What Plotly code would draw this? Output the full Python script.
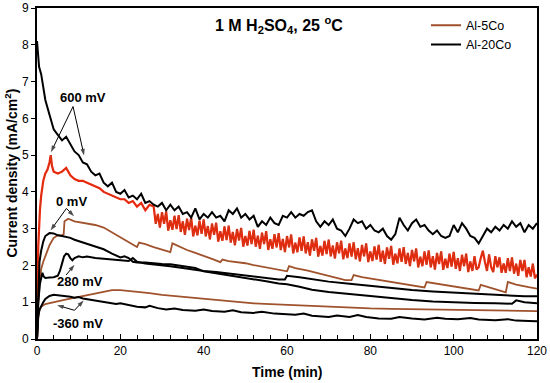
import plotly.graph_objects as go

# ---------------- data ----------------
# Al-20Co, 600 mV
t_b600 = [0, 0.5] + list(range(1, 121))
j_b600 = [8.1, 7.4,
          7.2, 6.5, 6.1, 5.7, 5.55, 5.4, 5.5, 5.3, 5.1, 5.0,
          4.8, 4.75, 4.55, 4.45, 4.5, 4.25, 4.15, 4.25, 4.0, 3.95,
          4.05, 3.85, 3.9, 3.8, 3.95, 3.7, 3.75, 3.65, 3.6, 3.7,
          3.5, 3.65, 3.5, 3.6, 3.4, 3.45, 3.3, 3.55, 3.25, 3.4,
          3.3, 3.45, 3.3, 3.35, 3.2, 3.5, 3.4, 3.55, 3.3, 3.4,
          3.25, 3.35, 3.05, 3.2, 3.1, 3.3, 3.15, 3.1, 3.35, 3.3,
          3.45, 3.3, 3.4, 3.35, 3.45, 3.5, 3.2, 3.05, 3.2, 3.1,
          3.25, 3.0, 2.95, 2.8, 3.0, 3.25, 3.15, 3.2, 3.0, 3.1,
          2.95, 2.9, 3.0, 2.8, 2.7, 2.85, 3.3, 3.1, 2.95, 3.15,
          3.25, 3.05, 3.1, 2.95, 2.85, 2.95, 2.8, 2.75, 2.8, 3.1,
          2.9, 3.15, 3.0, 2.8, 2.75, 2.6, 2.8, 3.0, 2.9, 3.05,
          2.95, 3.1, 3.0, 3.2, 3.05, 3.15, 2.9, 3.1, 3.0, 3.15]

# Al-5Co, 600 mV (smooth start, then strongly oscillating from 28 min)
t_r600a = [0, 0.3, 0.7, 1, 1.5, 2, 2.5, 3, 3.3, 3.6, 4] + list(range(5, 28))
j_r600a = [0, 2.5, 3.5, 3.9, 4.3, 4.5, 4.6, 4.8, 5.0, 4.7, 4.55,
           4.5, 4.55, 4.65, 4.45, 4.35, 4.3, 4.3, 4.25, 4.2, 4.15,
           4.1, 4.0, 3.95, 3.9, 3.85, 3.8, 3.8, 3.7, 3.75, 3.6,
           3.7, 3.5, 3.65]
t_r600b = [28 + 0.5 * k for k in range(185)]
j_r600b = [3.60, 3.13, 3.40, 3.03, 3.45, 3.13, 3.47, 2.95, 3.23, 2.97,
           3.35, 2.99, 3.37, 2.91, 3.20, 2.83, 3.27, 2.96, 3.30, 2.79,
           3.08, 2.82, 3.22, 2.86, 3.25, 2.79, 3.07, 2.71, 3.14, 2.83,
           3.16, 2.65, 2.93, 2.67, 3.06, 2.69, 3.08, 2.62, 2.91, 2.55,
           2.99, 2.68, 3.02, 2.51, 2.80, 2.54, 2.94, 2.58, 2.97, 2.51,
           2.81, 2.45, 2.89, 2.58, 2.93, 2.42, 2.71, 2.45, 2.85, 2.49,
           2.88, 2.42, 2.72, 2.36, 2.80, 2.49, 2.84, 2.33, 2.62, 2.36,
           2.76, 2.40, 2.79, 2.33, 2.63, 2.27, 2.71, 2.40, 2.75, 2.24,
           2.53, 2.27, 2.67, 2.31, 2.70, 2.25, 2.54, 2.19, 2.63, 2.33,
           2.67, 2.17, 2.46, 2.20, 2.60, 2.24, 2.63, 2.17, 2.47, 2.11,
           2.56, 2.25, 2.60, 2.09, 2.38, 2.12, 2.52, 2.16, 2.56, 2.10,
           2.40, 2.04, 2.49, 2.18, 2.53, 2.02, 2.32, 2.06, 2.46, 2.10,
           2.50, 2.04, 2.34, 1.98, 2.42, 2.11, 2.46, 1.95, 2.24, 1.98,
           2.38, 2.02, 2.41, 1.95, 2.25, 1.89, 2.34, 2.04, 2.38, 1.88,
           2.18, 1.93, 2.32, 1.97, 2.37, 1.91, 2.20, 1.85, 2.29, 1.98,
           2.32, 1.82, 2.11, 1.85, 2.25, 1.89, 1.95, 2.20, 2.40, 2.10,
           1.85, 2.30, 1.95, 1.82, 2.25, 1.95, 2.22, 1.80, 2.05, 1.80,
           2.20, 1.85, 2.22, 1.78, 2.05, 1.72, 2.15, 1.85, 2.15, 1.68,
           1.95, 1.70, 2.05, 1.65, 1.75]

# Al-5Co, 0 mV
t_r0 = [0, 0.3, 0.7, 1, 1.5, 2, 3, 4, 5, 6, 6.4, 6.6, 7.5, 9, 10, 12, 14, 16, 18, 20,
        22, 24, 24.5, 26, 28, 30, 32, 32.5, 34, 36, 38, 40, 42, 44, 44.5, 46, 48, 50,
        52, 54, 56, 58, 60, 60.5, 62, 65, 68, 71, 74, 75.5, 76, 78, 82, 86, 90, 93,
        93.5, 96, 100, 103, 106, 106.5, 109, 112.5, 113, 115, 118, 120]
j_r0 = [0, 1.0, 1.6, 1.9, 2.1, 2.25, 2.55, 2.75, 2.82, 2.82, 2.85, 3.2, 3.27, 3.2, 3.18,
        3.15, 3.1, 3.03, 2.9, 2.77, 2.65, 2.5, 2.62, 2.58, 2.5, 2.42, 2.36, 2.6, 2.52,
        2.42, 2.34, 2.27, 2.18, 2.09, 2.16, 2.12, 2.1, 2.06, 2.01, 1.97, 1.93, 1.87, 1.84,
        1.98, 1.93, 1.86, 1.78, 1.7, 1.6, 1.6, 1.74, 1.68, 1.6, 1.52, 1.44, 1.4, 1.55,
        1.5, 1.43, 1.37, 1.32, 1.47, 1.38, 1.27, 1.55, 1.48, 1.41, 1.37]

# Al-20Co, 0 mV
t_b0 = [0, 0.3, 0.6, 1, 1.5, 2, 3, 4, 5, 6, 7, 8, 9, 10, 12, 14, 16, 18, 20, 21, 22,
        23, 24, 26, 28, 30, 32, 35, 38, 40, 43, 46, 49, 52, 55, 58, 60, 63, 66, 70,
        75, 80, 85, 90, 95, 100, 105, 110, 114, 115, 117, 120]
j_b0 = [0, 1.5, 2.1, 2.4, 2.65, 2.8, 2.88, 2.87, 2.82, 2.8, 2.78, 2.75, 2.7, 2.66, 2.6,
        2.52, 2.44, 2.32, 2.22, 2.25, 2.2, 2.1, 2.08, 2.08, 2.05, 2.04, 2.03, 1.97, 1.93,
        1.84, 1.79, 1.73, 1.68, 1.63, 1.57, 1.51, 1.49, 1.42, 1.34, 1.28, 1.22, 1.16, 1.1,
        1.06, 1.02, 0.99, 0.98, 0.97, 0.96, 1.05, 1.0, 0.97]

# Al-20Co, 280 mV
t_b280 = [0, 0.3, 0.7, 1, 1.3, 1.6, 2, 3, 4, 5, 5.5, 6, 6.5, 7, 7.5, 8, 8.5, 9, 10, 11,
          12, 14, 16, 18, 20, 22, 23, 24, 26, 28, 30, 32, 35, 38, 40, 43, 46, 49, 52,
          55, 58, 59.5, 60, 63, 66, 70, 75, 80, 85, 90, 95, 100, 105, 110, 114, 117, 120]
j_b280 = [0, 1.0, 1.5, 1.65, 1.8, 1.7, 1.66, 1.67, 1.68, 1.72, 1.85, 2.05, 2.25, 2.32,
          2.3, 2.2, 2.14, 2.2, 2.25, 2.22, 2.24, 2.2, 2.18, 2.17, 2.14, 2.12, 2.2, 2.1,
          2.05, 2.03, 2.0, 1.98, 1.93, 1.88, 1.85, 1.82, 1.78, 1.74, 1.7, 1.66, 1.62, 1.62,
          1.72, 1.68, 1.62, 1.56, 1.5, 1.44, 1.38, 1.33, 1.29, 1.26, 1.22, 1.19, 1.17,
          1.16, 1.16]

# Al-5Co, -360 mV
t_rm360 = [0, 0.2, 0.5, 1, 2, 3, 4, 6, 8, 10, 12, 14, 16, 18, 20, 22, 24, 27, 30, 33,
           36, 40, 44, 48, 52, 56, 60, 65, 70, 75, 80, 85, 90, 95, 100, 105, 110, 115, 120]
j_rm360 = [0, 0.5, 0.75, 0.88, 0.95, 0.98, 1.0, 1.05, 1.1, 1.15, 1.19, 1.24, 1.29, 1.33,
           1.33, 1.31, 1.29, 1.25, 1.2, 1.17, 1.13, 1.09, 1.04, 1.0, 0.97, 0.95, 0.93, 0.9,
           0.87, 0.85, 0.83, 0.82, 0.81, 0.8, 0.79, 0.78, 0.77, 0.77, 0.76]

# Al-20Co, -360 mV
t_bm360 = [0, 0.3, 0.6, 1, 1.5, 2, 3, 4, 5, 6, 7, 8, 9, 10, 11, 13, 15, 17, 19, 20, 22,
           24, 26, 27, 29, 31, 33, 35, 38, 40, 42, 45, 47, 49, 52, 54, 57, 60, 62, 64,
           66, 70, 72, 75, 77, 79, 82, 85, 87, 90, 93, 96, 98, 101, 104, 106, 110, 113,
           115, 118, 120]
j_bm360 = [0, 0.6, 0.8, 0.9, 1.0, 1.09, 1.17, 1.2, 1.19, 1.18, 1.17, 1.15, 1.12, 1.14,
           1.1, 1.06, 1.02, 0.98, 0.95, 0.97, 0.92, 0.88, 0.86, 0.9, 0.84, 0.8, 0.83, 0.79,
           0.77, 0.8, 0.76, 0.74, 0.78, 0.73, 0.71, 0.74, 0.69, 0.68, 0.66, 0.69, 0.63, 0.6,
           0.64, 0.6, 0.65, 0.6, 0.56, 0.55, 0.6, 0.56, 0.53, 0.58, 0.55, 0.54, 0.57, 0.53,
           0.51, 0.54, 0.5, 0.49, 0.48]

series_names = ["Al-5Co", "Al-20Co"]
potential_labels = ["600 mV", "0 mV", "280 mV", "-360 mV"]
x_tick_labels = ["0", "20", "40", "60", "80", "100", "120"]
x_tick_vals = [0, 20, 40, 60, 80, 100, 120]
y_tick_vals = [0, 1, 2, 3, 4, 5, 6, 7, 8, 9]

# ---------------- styling ----------------
FONT = "Liberation Sans, Arial, sans-serif"
BROWN = "#a0522d"
RED = "#ff1a00"
BLACK = "#000000"

fig = go.Figure()

# Al-5Co curves
fig.add_trace(go.Scatter(x=t_r600a + t_r600b, y=j_r600a + j_r600b, mode="lines",
                         line=dict(color=RED, width=2.2), showlegend=False, hoverinfo="skip"))
fig.add_trace(go.Scatter(x=t_r600a + t_r600b, y=j_r600a + j_r600b, mode="lines",
                         line=dict(color=BROWN, width=0.6), showlegend=False))
fig.add_trace(go.Scatter(x=t_r0, y=j_r0, mode="lines", line=dict(color=BROWN, width=1.8),
                         name=series_names[0], showlegend=True))
fig.add_trace(go.Scatter(x=t_rm360, y=j_rm360, mode="lines", line=dict(color=BROWN, width=1.8),
                         showlegend=False))

# Al-20Co curves
fig.add_trace(go.Scatter(x=t_b600, y=j_b600, mode="lines", line=dict(color=BLACK, width=2),
                         name=series_names[1], showlegend=True))
fig.add_trace(go.Scatter(x=t_b0, y=j_b0, mode="lines", line=dict(color=BLACK, width=2),
                         showlegend=False))
fig.add_trace(go.Scatter(x=t_b280, y=j_b280, mode="lines", line=dict(color=BLACK, width=2),
                         showlegend=False))
fig.add_trace(go.Scatter(x=t_bm360, y=j_bm360, mode="lines", line=dict(color=BLACK, width=2),
                         showlegend=False))

# arrows pointing from the potential labels to their curves: (tail_t, tail_j, head_t, head_j)
arrows = [(8.65, 6.32, 3.35, 5.08), (8.65, 6.32, 11.3, 4.99),
          (7.06, 3.55, 3.25, 2.95), (7.06, 3.55, 8.9, 3.34),
          (7.0, 1.74, 9.0, 2.02),
          (9.0, 0.78, 4.8, 0.92), (9.0, 0.78, 11.2, 1.05)]
ax_, ay_, sz = [], [], []
for tx, ty, hx, hy in arrows:
    ax_ += [tx, hx, None]
    ay_ += [ty, hy, None]
    sz += [0, 7, 0]
fig.add_trace(go.Scatter(x=ax_, y=ay_, mode="lines+markers",
                         line=dict(color="black", width=1),
                         marker=dict(symbol="arrow", size=sz, angleref="previous",
                                     color="black", line=dict(width=0)),
                         showlegend=False, hoverinfo="skip", connectgaps=False))

annotations = []
for txt, lx, ly in zip(potential_labels, [10.98, 8.26, 10.26, 9.85], [6.58, 3.73, 1.55, 0.41]):
    annotations.append(dict(x=lx, y=ly, xref="x", yref="y", text="<b>%s</b>" % txt,
                            showarrow=False, font=dict(size=13, family=FONT, color="black")))
# title
annotations.append(dict(x=0.483, y=0.949, xref="paper", yref="paper",
                        xanchor="center", yanchor="middle",
                        text="<b>1 M H<sub>2</sub>SO<sub>4</sub>, 25 <sup>o</sup>C</b>",
                        showarrow=False, font=dict(size=16, family=FONT, color="black")))
# axis titles
annotations.append(dict(x=-0.052, y=0.5, xref="paper", yref="paper", textangle=-90,
                        xanchor="center", yanchor="middle",
                        text="<b>Current density (mA/cm<sup>2</sup>)</b>",
                        showarrow=False, font=dict(size=14, family=FONT, color="black")))
annotations.append(dict(x=0.5, y=-0.10, xref="paper", yref="paper",
                        xanchor="center", yanchor="middle",
                        text="<b>Time (min)</b>",
                        showarrow=False, font=dict(size=14, family=FONT, color="black")))

fig.update_layout(
    width=550, height=383,
    margin=dict(l=37, r=13, t=8, b=44, autoexpand=False),
    plot_bgcolor="white", paper_bgcolor="white",
    font=dict(family=FONT, color="black", size=12),
    legend=dict(x=0.778, y=0.992, xanchor="left", yanchor="top", bgcolor="rgba(0,0,0,0)",
                font=dict(size=12.5, family=FONT, color="black"), itemwidth=30,
                tracegroupgap=0),
    annotations=annotations,
)
fig.update_xaxes(range=[0, 120], tickvals=x_tick_vals, ticktext=x_tick_labels,
                 ticks="inside", ticklen=5, tickwidth=1, tickcolor="black",
                 minor=dict(dtick=4, tick0=0, ticks="inside", ticklen=4, tickwidth=1,
                            tickcolor="black", showgrid=False),
                 showline=True, linewidth=2, linecolor="black", mirror=True,
                 showgrid=False, zeroline=False, tickfont=dict(size=12), automargin=False)
fig.update_yaxes(range=[0, 9], tickvals=y_tick_vals, ticks="outside", ticklen=4,
                 tickwidth=1, tickcolor="black",
                 showline=True, linewidth=2, linecolor="black", mirror=True,
                 showgrid=False, zeroline=False, tickfont=dict(size=12), automargin=False)

fig.write_html("out.html", config={"displayModeBar": False},
               post_script="document.body.style.margin='0';")
